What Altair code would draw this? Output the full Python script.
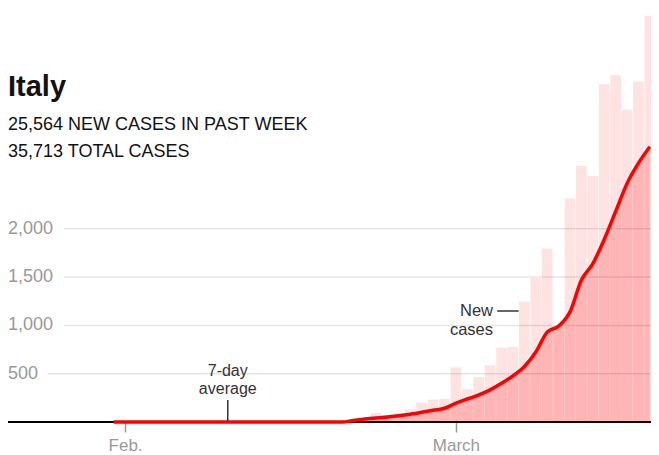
import altair as alt
import pandas as pd

# ---------------- data ----------------
dates = pd.date_range("2020-01-31", "2020-03-18", freq="D").strftime("%Y-%m-%d").tolist()

new_cases = [2,
             0, 0, 0, 0, 0, 0, 1, 0, 0, 0, 0, 0, 0, 0, 0, 0, 0, 0, 0, 0,
             17, 42, 93, 74, 93, 131, 202, 233, 240,
             566, 342, 466, 587, 769, 778, 1247, 1492, 1797, 977,
             2313, 2651, 2547, 3497, 3590, 3233, 3526, 4207]

avg7 = [0.3,
        0.3, 0.3, 0.3, 0.3, 0.3, 0.3, 0.1, 0.1, 0.1, 0.1, 0.1, 0.1, 0.1, 0, 0, 0, 0, 0, 0, 0,
        15, 30, 42, 52, 64, 80, 100, 122, 142,
        195, 238, 280, 333, 400, 478, 575, 725, 930, 993,
        1140, 1470, 1640, 1890, 2180, 2470, 2680, 2850]

y_ticks = [500, 1000, 1500, 2000]
x_tick_dates = ["2020-02-01", "2020-03-01"]
x_tick_labels = ["Feb.", "March"]

title_text = "Italy"
sub_lines = ["25,564 NEW CASES IN PAST WEEK", "35,713 TOTAL CASES"]
avg_label = ["7-day", "average"]
avg_label_date = "2020-02-10"
new_label = ["New", "cases"]

# ---------------- layout / style ----------------
FONT = "Liberation Sans"
W, H = 643, 414
DAY = pd.Timedelta(days=1)
ISO = "%Y-%m-%dT%H:%M:%SZ"


def ms(ts):
    return int(pd.Timestamp(ts).value // 10**6)


mar1 = pd.Timestamp("2020-03-01", tz="UTC")
x_domain = [ms(mar1 - 39.264 * DAY), ms(mar1 + 17.1 * DAY)]
xscale = alt.Scale(type="utc", domain=x_domain)
yscale = alt.Scale(domain=[0, 4286], nice=False, zero=True)

d = pd.to_datetime(dates).tz_localize("UTC")
df = pd.DataFrame({
    "date": d.strftime(ISO),
    "start": (d - 0.47 * DAY).strftime(ISO),
    "end": (d + 0.47 * DAY).strftime(ISO),
    "cases": new_cases,
    "avg": avg7,
})

tick_ms = [ms(pd.Timestamp(t, tz="UTC")) for t in x_tick_dates]
label_expr = f"utcmonth(datum.value) == 1 ? '{x_tick_labels[0]}' : '{x_tick_labels[1]}'"

xaxis = alt.Axis(values=tick_ms, labelExpr=label_expr, domain=False, grid=False,
                 ticks=True, tickColor="#999999", tickSize=10, tickWidth=1.5,
                 labelColor="#999999", labelFontSize=17, labelFont=FONT,
                 labelPadding=5, title=None)

bars = alt.Chart(df).mark_rect(color="#ffe3e3").encode(
    x=alt.X("start:T", scale=xscale, axis=xaxis),
    x2="end:T",
    y=alt.Y("cases:Q", scale=yscale, axis=None),
    y2=alt.datum(0),
)

area = alt.Chart(df).mark_area(color="#ff0000", opacity=0.2, interpolate="monotone").encode(
    x=alt.X("date:T", scale=xscale),
    y=alt.Y("avg:Q", scale=yscale),
)

grid_df = pd.DataFrame({"v": y_ticks})
grid = alt.Chart(grid_df).transform_calculate(
    lab="format(datum.v, ',')",
    gx="length(datum.lab) * 8 + 16",
).mark_rule(color="#000000", opacity=0.1, strokeWidth=1.5).encode(
    x=alt.X("gx:Q", scale=None, axis=None),
    x2=alt.value(W),
    y=alt.Y("v:Q", scale=yscale),
)

ylabels = alt.Chart(grid_df).mark_text(
    align="left", baseline="middle", font=FONT, fontSize=18, color="#999999"
).encode(
    x=alt.value(0),
    y=alt.Y("v:Q", scale=yscale),
    text=alt.Text("v:Q", format=","),
)

baseline = alt.Chart(pd.DataFrame({"v": [0]})).mark_rule(color="#000000", strokeWidth=2).encode(
    y=alt.Y("v:Q", scale=yscale),
    x=alt.value(0),
    x2=alt.value(W),
)

line = alt.Chart(df).mark_line(color="#ff0000", strokeWidth=3.5, interpolate="monotone").encode(
    x=alt.X("date:T", scale=xscale),
    y=alt.Y("avg:Q", scale=yscale),
)

# ---- annotations ----
ann_avg_df = pd.DataFrame({"date": [pd.Timestamp(avg_label_date, tz="UTC").strftime(ISO)]})
avg_text = alt.Chart(ann_avg_df).mark_text(align="center", baseline="alphabetic", font=FONT,
                                           fontSize=16, lineHeight=17.5, color="#333333",
                                           text=avg_label).encode(
    x=alt.X("date:T", scale=xscale), y=alt.value(368))
avg_tick = alt.Chart(ann_avg_df).mark_rule(color="#333333", strokeWidth=1.5).encode(
    x=alt.X("date:T", scale=xscale), y=alt.value(392), y2=alt.value(413))

new_df = pd.DataFrame({
    "tx": [(mar1 + 3.25 * DAY).strftime(ISO)],
    "d1": [(mar1 + 3.62 * DAY).strftime(ISO)],
    "d2": [(mar1 + 5.5 * DAY).strftime(ISO)],
})
new_text = alt.Chart(new_df).mark_text(align="right", baseline="alphabetic", font=FONT,
                                       fontSize=16.5, lineHeight=18.5, color="#333333",
                                       text=new_label).encode(
    x=alt.X("tx:T", scale=xscale), y=alt.value(308))
new_dash = alt.Chart(new_df).mark_rule(color="#333333", strokeWidth=1.5).encode(
    x=alt.X("d1:T", scale=xscale), x2="d2:T", y=alt.value(303))

# ---- titles ----
tdf = pd.DataFrame({"t": [title_text]})
title = alt.Chart(tdf).mark_text(align="left", baseline="alphabetic", font=FONT, fontSize=29,
                                 fontWeight="bold", color="#121212").encode(
    text="t:N", x=alt.value(0), y=alt.value(88))
sdf1 = pd.DataFrame({"t": [sub_lines[0]]})
sdf2 = pd.DataFrame({"t": [sub_lines[1]]})
sub1 = alt.Chart(sdf1).mark_text(align="left", baseline="alphabetic", font=FONT, fontSize=18,
                                 color="#121212").encode(text="t:N", x=alt.value(0), y=alt.value(122))
sub2 = alt.Chart(sdf2).mark_text(align="left", baseline="alphabetic", font=FONT, fontSize=18,
                                 color="#121212").encode(text="t:N", x=alt.value(0), y=alt.value(149))

chart = alt.layer(
    bars, area, grid, ylabels, baseline, line,
    avg_text, avg_tick, new_text, new_dash,
    title, sub1, sub2,
).properties(
    width=W, height=H,
    padding={"left": 0, "top": 0, "right": 0, "bottom": 31},
    autosize=alt.AutoSizeParams(type="none"),
    background="white",
).configure_view(stroke=None)

chart.save("out.html", embed_options={"renderer": "svg", "actions": False})
